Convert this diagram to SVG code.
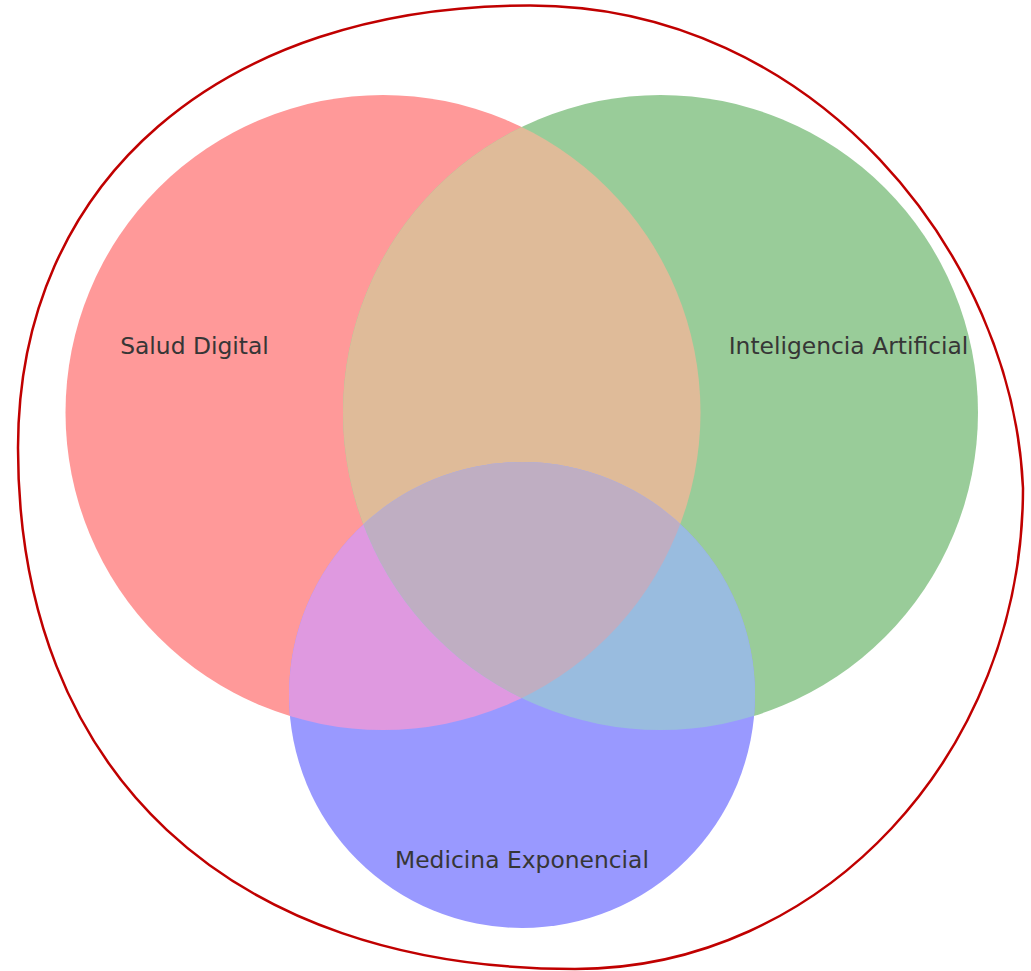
<svg xmlns="http://www.w3.org/2000/svg" width="1031" height="971" viewBox="0 0 1031 971">
  <style>
    .lbl { font-family: "DejaVu Sans", "Liberation Sans", sans-serif; font-size: 23.4px; fill: #363636; text-anchor: middle; }
    .outline { fill: none; stroke: #C00000; stroke-width: 2.5; stroke-linejoin: round; }
  </style>
  <defs>
    <clipPath id="clipRed"><circle cx="383" cy="412.5" r="317.5"/></clipPath>
    <clipPath id="clipGreen"><circle cx="660.5" cy="412.5" r="317.5"/></clipPath>
  </defs>
  <rect x="0" y="0" width="1031" height="971" fill="#FFFFFF"/>

  <g id="outline">
    <path class="outline" d="M530,5.5 C815,5.5 1013,255 1023,488 C1023,754 822,969 575,969 C229,969 18,771.5 18,448 C18,180.7 220.8,5.5 530,5.5 Z"/>
  </g>

  <g id="set-salud-digital">
    <circle cx="383" cy="412.5" r="317.5" fill="#FF9999"/>
  </g>
  <g id="set-inteligencia-artificial">
    <circle cx="660.5" cy="412.5" r="317.5" fill="#99CC99"/>
  </g>
  <g id="set-medicina-exponencial">
    <circle cx="522" cy="695" r="233" fill="#9999FF"/>
  </g>

  <g id="overlaps">
    <circle id="rg" cx="660.5" cy="412.5" r="317.5" fill="#DFBB99" clip-path="url(#clipRed)"/>
    <circle id="rb" cx="522" cy="695" r="233" fill="#DF99E0" clip-path="url(#clipRed)"/>
    <circle id="gb" cx="522" cy="695" r="233" fill="#99BCDF" clip-path="url(#clipGreen)"/>
    <g id="rgb" clip-path="url(#clipGreen)">
      <circle cx="522" cy="695" r="233" fill="#BFAEC2" clip-path="url(#clipRed)"/>
    </g>
  </g>

  <g id="connectors"/>

  <g id="labels">
    <text class="lbl" x="194.5" y="354">Salud Digital</text>
    <text class="lbl" x="848.5" y="354">Inteligencia Artificial</text>
    <text class="lbl" x="522" y="868">Medicina Exponencial</text>
  </g>
</svg>
